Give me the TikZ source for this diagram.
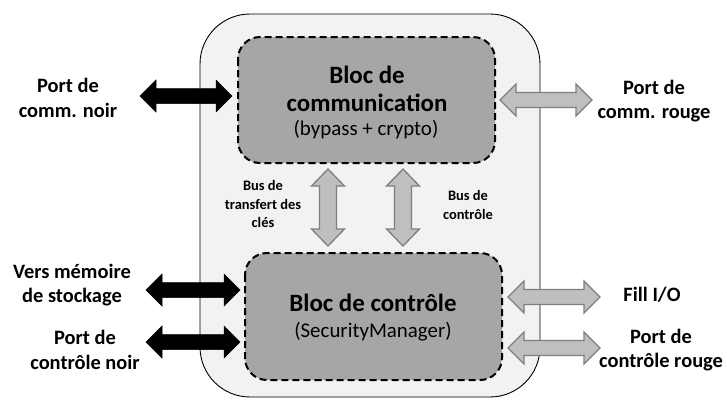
\documentclass[tikz,border=0pt]{standalone}
\usepackage{fontspec}
\setmainfont{Carlito}
\definecolor{outerfill}{HTML}{F2F2F2}
\definecolor{blockfill}{HTML}{A6A6A6}
\definecolor{grayarrow}{HTML}{BFBFBF}
\definecolor{grayedge}{HTML}{7F7F7F}
\tikzset{
  outerbox/.style={draw=black, line width=0.9bp, fill=outerfill, rounded corners=50bp},
  blockbox/.style={draw=black, line width=2bp, dash pattern=on 7bp off 4bp, fill=blockfill, rounded corners=22bp},
  blackarrow/.style={fill=black, draw=black, line width=0.5bp, line join=miter},
  grayarr/.style={fill=grayarrow, draw=grayedge, line width=1.3bp, line join=miter},
  portlabel/.style={align=center, font=\bfseries\fontsize{20.5}{24.5}\selectfont, inner sep=0pt},
  buslabel/.style={align=center, font=\bfseries\fontsize{14.5}{18.5}\selectfont, inner sep=0pt},
  blocktitle/.style={align=center, font=\bfseries\fontsize{25}{28}\selectfont, inner sep=0pt},
  blocksub/.style={align=center, text=black, font=\fontsize{21}{25}\selectfont, inner sep=0pt},
}
% horizontal double arrow: x1, x2, y, style
\newcommand\harrowshape[4]{%
  \draw[#4] (#1,#3) -- (#1+16,#3-16) -- (#1+16,#3-7.5) -- (#2-16,#3-7.5) -- (#2-16,#3-16)
    -- (#2,#3) -- (#2-16,#3+16) -- (#2-16,#3+7.5) -- (#1+16,#3+7.5) -- (#1+16,#3+16) -- cycle;}
% vertical double arrow: x, y1, y2, style
\newcommand\varrowshape[4]{%
  \draw[#4] (#1,#2) -- (#1+16.5,#2+17) -- (#1+8.5,#2+17) -- (#1+8.5,#3-17) -- (#1+16.5,#3-17)
    -- (#1,#3) -- (#1-16.5,#3-17) -- (#1-8.5,#3-17) -- (#1-8.5,#2+17) -- (#1-16.5,#2+17) -- cycle;}
\begin{document}
\begin{tikzpicture}[x=1bp, y=-1bp]
\useasboundingbox (0,0) rectangle (727,399);
\fill[white] (0,0) rectangle (727,399);
% outer module
\draw[outerbox] (200,14) rectangle (540,397);
% blocks
\draw[blockbox] (238,37) rectangle (495,163);
\draw[blockbox] (245,253) rectangle (502,380);
\node[blocktitle] (comm) at (367,89) {Bloc de\\communication};
\node[blocksub] (commsub) at (366,130) {(bypass + crypto)};
\node[blocktitle] (ctrl) at (373,303) {Bloc de contrôle};
\node[blocksub] (ctrlsub) at (373,332) {(SecurityManager)};
% arrows
\harrowshape{140}{232}{96}{blackarrow}
\harrowshape{500}{592}{100}{grayarr}
\harrowshape{146}{240}{290}{blackarrow}
\harrowshape{146}{240}{342}{blackarrow}
\harrowshape{508}{600}{297}{grayarr}
\harrowshape{508}{600}{348}{grayarr}
\varrowshape{328}{169}{246}{grayarr}
\varrowshape{403}{169}{246}{grayarr}
% labels
\node[portlabel] (pcn) at (68,98) {Port de\\comm. noir};
\node[portlabel] (pcr) at (654,101) {Port de\\comm. rouge};
\node[portlabel] (vms) at (72,285) {Vers mémoire\\de stockage};
\node[portlabel] (pctn) at (85,350) {Port de\\contrôle noir};
\node[portlabel] (fio) at (652,295) {Fill I/O};
\node[portlabel] (pctr) at (661,350) {Port de\\contrôle rouge};
\node[buslabel] (btc) at (263,204) {Bus de\\transfert des\\clés};
\node[buslabel] (bc) at (468,205) {Bus de\\contrôle};
\end{tikzpicture}
\end{document}
